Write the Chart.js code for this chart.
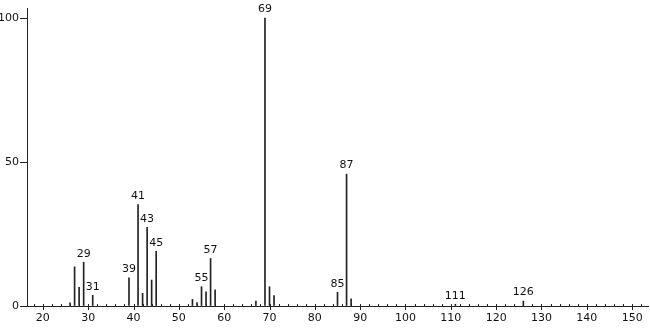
<!DOCTYPE html>
<html>
<head>
<meta charset="utf-8">
<script src="https://cdn.jsdelivr.net/npm/chart.js@4.4.0/dist/chart.umd.min.js"></script>
<style>
  body { margin: 0; background: #fff; }
  canvas { display: block; }
</style>
</head>
<body>
<canvas id="spectrum" width="650" height="328"></canvas>
<script>
  // m/z values and relative intensities
  var masses = [26, 27, 28, 29, 31, 39, 41, 42, 43, 44, 45, 53, 54, 55, 56, 57, 58, 67, 69, 70, 71, 85, 87, 88, 111, 126];
  var intensities = [1.1, 13.6, 6.5, 15.2, 3.7, 9.8, 35.2, 4.4, 27.3, 9.0, 19.0, 2.3, 1.2, 6.7, 4.9, 16.5, 5.6, 1.7, 100, 6.7, 3.6, 4.8, 45.8, 2.5, 0.6, 1.7];
  // peaks that carry a label
  var labeledPeaks = [29, 31, 39, 41, 43, 45, 55, 57, 69, 85, 87, 111, 126];
  // tick labels
  var xTicks = [20, 30, 40, 50, 60, 70, 80, 90, 100, 110, 120, 130, 140, 150];
  var yTicks = [0, 50, 100];

  var FONT = "DejaVu Sans";
  var INK = "#222";

  var points = masses.map(function (m, i) {
    return { x: m, y: intensities[i] };
  });

  // small tick marks on the x axis (every 2, longer at every 10)
  var axisTicks = {
    id: "axisTicks",
    afterDraw: function (chart) {
      var ctx = chart.ctx;
      var xs = chart.scales.x;
      var y0 = chart.chartArea.bottom;
      ctx.save();
      ctx.strokeStyle = INK;
      ctx.lineWidth = 1;
      for (var v = 18; v <= 152; v += 2) {
        var px = Math.round(xs.getPixelForValue(v)) + 0.5;
        ctx.beginPath();
        if (v % 10 === 0) {
          ctx.moveTo(px, y0 - 2);
          ctx.lineTo(px, y0 + 4);
        } else {
          ctx.moveTo(px, y0 - 2);
          ctx.lineTo(px, y0 + 1);
        }
        ctx.stroke();
      }
      ctx.restore();
    },
  };

  // m/z label above the main peaks
  var peakLabels = {
    id: "peakLabels",
    afterDatasetsDraw: function (chart) {
      var ctx = chart.ctx;
      var xs = chart.scales.x;
      var ys = chart.scales.y;
      ctx.save();
      ctx.fillStyle = "#111";
      ctx.font = "11px '" + FONT + "'";
      ctx.textAlign = "center";
      ctx.textBaseline = "bottom";
      masses.forEach(function (m, i) {
        if (labeledPeaks.indexOf(m) === -1) return;
        ctx.fillText(String(m), xs.getPixelForValue(m), ys.getPixelForValue(intensities[i]) - 3);
      });
      ctx.restore();
    },
  };

  new Chart(document.getElementById("spectrum"), {
    type: "bar",
    data: {
      datasets: [
        {
          data: points,
          backgroundColor: INK,
          borderWidth: 0,
          barThickness: 1,
        },
      ],
    },
    options: {
      responsive: false,
      animation: false,
      devicePixelRatio: 1,
      layout: { padding: { top: 8, right: 2, left: 0, bottom: 0 } },
      plugins: {
        legend: { display: false },
        tooltip: { enabled: false },
      },
      scales: {
        x: {
          type: "linear",
          offset: false,
          min: 16.5,
          max: 153.5,
          afterBuildTicks: function (scale) {
            scale.ticks = xTicks.map(function (v) { return { value: v }; });
          },
          afterFit: function (scale) { scale.height = 22; },
          grid: { display: false, drawTicks: false, offset: false },
          border: { display: true, color: INK, width: 1 },
          ticks: {
            padding: 6,
            maxRotation: 0,
            autoSkip: false,
            color: "#111",
            font: { family: FONT, size: 11 },
          },
        },
        y: {
          min: 0,
          max: 103.5,
          afterBuildTicks: function (scale) {
            scale.ticks = yTicks.map(function (v) { return { value: v }; });
          },
          afterFit: function (scale) { scale.width = 27; },
          grid: {
            drawOnChartArea: false,
            drawTicks: true,
            tickLength: 7,
            color: INK,
          },
          border: { display: true, color: INK, width: 1 },
          ticks: {
            padding: 1,
            color: "#111",
            font: { family: FONT, size: 11 },
          },
        },
      },
    },
    plugins: [axisTicks, peakLabels],
  });
</script>
</body>
</html>
